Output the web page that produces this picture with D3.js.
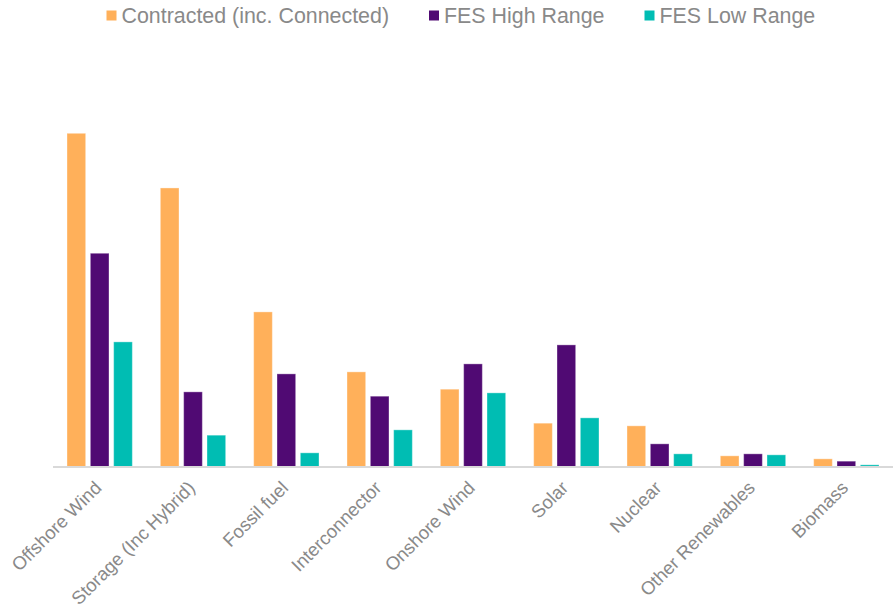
<!DOCTYPE html>
<html>
<head>
<meta charset="utf-8">
<script src="https://cdn.jsdelivr.net/npm/d3@7/dist/d3.min.js"></script>
<style>
  html, body { margin: 0; padding: 0; background: #ffffff; }
  svg { display: block; font-family: "Liberation Sans", Arial, sans-serif; }
</style>
</head>
<body>
<svg id="chart" width="895" height="609"></svg>
<script>
// Technology types along the x axis
const categories = ["Offshore Wind", "Storage (Inc Hybrid)", "Fossil fuel", "Interconnector",
  "Onshore Wind", "Solar", "Nuclear", "Other Renewables", "Biomass"];

// Series names (legend order)
const seriesNames = ["Contracted (inc. Connected)", "FES High Range", "FES Low Range"];

// Values per series, one per category
const contracted = [100, 83.6, 46.4, 28.4, 23.2, 13.0, 12.2, 3.2, 2.3];
const fesHigh    = [64.0, 22.4, 27.8, 21.1, 30.8, 36.5, 6.8, 3.8, 1.6];
const fesLow     = [37.4, 9.4, 4.1, 11.0, 22.1, 14.6, 3.8, 3.5, 0.5];

const seriesColors = ["#FFB05A", "#500A73", "#00BDB3"];

const seriesValues = [contracted, fesHigh, fesLow];
const rows = categories.map((c, i) => ({
  category: c,
  values: seriesNames.map((s, j) => ({ series: s, value: seriesValues[j][i] }))
}));

const svg = d3.select("#chart");
const plotLeft = 53, plotRight = 893, baseline = 466.5, plotTop = 133.3;

const x0 = d3.scaleBand().domain(categories).range([plotLeft, plotRight])
  .paddingInner(0.3).paddingOuter(0.15);
const x1 = d3.scaleBand().domain(seriesNames).range([0, x0.bandwidth()])
  .paddingInner(0.2).paddingOuter(0);
const y = d3.scaleLinear().domain([0, 100]).range([baseline, plotTop]);
const color = d3.scaleOrdinal().domain(seriesNames).range(seriesColors);

// Bars
const groups = svg.append("g").selectAll("g")
  .data(rows).join("g")
  .attr("transform", d => `translate(${x0(d.category)},0)`);

groups.selectAll("rect")
  .data(d => d.values).join("rect")
  .attr("x", d => x1(d.series))
  .attr("y", d => y(d.value))
  .attr("width", x1.bandwidth())
  .attr("height", d => baseline - y(d.value))
  .attr("fill", d => color(d.series))
  .attr("stroke", "#ffffff")
  .attr("stroke-opacity", 0.35)
  .attr("stroke-width", 1);

// Category axis
const xAxis = d3.axisBottom(x0).tickSize(0).tickPadding(0);
const axisG = svg.append("g")
  .attr("transform", `translate(0,${baseline + 0.5})`)
  .attr("font-family", "'Liberation Sans', Arial, sans-serif")
  .call(xAxis);
axisG.attr("font-family", "'Liberation Sans', Arial, sans-serif");
axisG.select(".domain").attr("stroke", "#d9d9d9").attr("stroke-width", 2)
  .attr("d", `M${plotLeft},0H${plotRight}`);
axisG.selectAll(".tick text")
  .attr("fill", "#898989")
  .attr("font-size", "18.5px")
  .attr("text-anchor", "end")
  .attr("dy", null)
  .attr("y", 0)
  .attr("transform", "translate(3,22) rotate(-45)");

// Legend
const legendX = [106.5, 429, 644.5];
const legend = svg.append("g").selectAll("g")
  .data(seriesNames).join("g")
  .attr("transform", (d, i) => `translate(${legendX[i]},0)`);
legend.append("rect")
  .attr("x", 0).attr("y", 10.5).attr("width", 10).attr("height", 10)
  .attr("fill", d => color(d));
legend.append("text")
  .attr("x", 15).attr("y", 23)
  .attr("font-size", "21.4px")
  .attr("fill", "#898989")
  .text(d => d);
</script>
</body>
</html>
